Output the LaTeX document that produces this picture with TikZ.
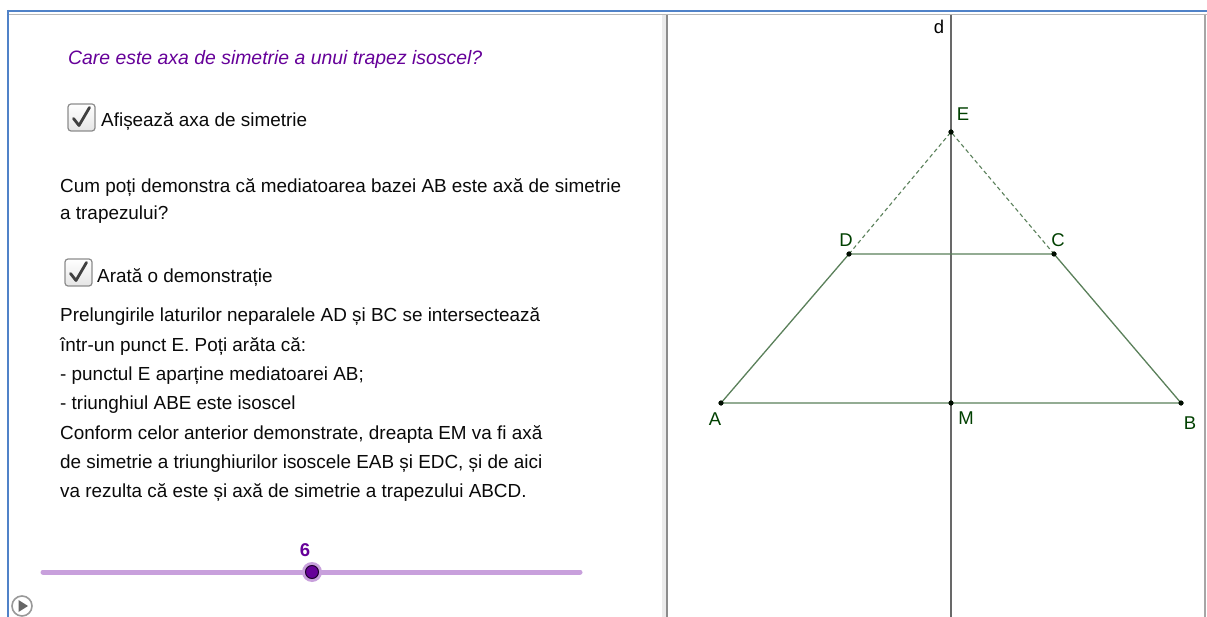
\documentclass[tikz,border=0pt]{standalone}
\usepackage{fontspec}
\setmainfont{Liberation Sans}
\definecolor{txt}{RGB}{10,10,10}
\definecolor{purp}{RGB}{102,0,153}
\definecolor{sliderc}{RGB}{200,160,220}
\definecolor{geo}{RGB}{90,128,90}
\definecolor{lbl}{RGB}{0,64,0}
\definecolor{frameblue}{RGB}{80,130,200}
\definecolor{axisgray}{RGB}{105,105,105}
\tikzset{
  body/.style={anchor=base west,inner sep=0pt,text=txt,font=\fontsize{18.9}{22}\selectfont},
  ptlabel/.style={inner sep=0pt,text=lbl,font=\fontsize{18.5}{22}\selectfont},
  pt/.style={circle,fill=black!80!lbl,inner sep=0pt,minimum size=5pt},
  seg/.style={draw=geo,line width=1.3pt},
  dseg/.style={draw=geo,line width=1.1pt,dash pattern=on 4pt off 3pt},
  chk/.style={draw=black!45,rounded corners=3pt,line width=1.2pt,top color=white,bottom color=black!10,minimum size=27pt,inner sep=0pt},
}
\begin{document}
\begin{tikzpicture}[x=1pt,y=-1pt]
\useasboundingbox (0,0) rectangle (1207,617);
\fill[white] (0,0) rectangle (1207,617);
% frame
\fill[black!8] (662,14) rectangle (666,617);
\draw[black!45,line width=1.3pt] (667,14) -- (667,617);
\draw[black!35,line width=1.3pt] (1205,14) -- (1205,617);
\draw[black!28,line width=1.5pt] (9,14.5) -- (1207,14.5);
\draw[frameblue,line width=2.5pt] (7,11) -- (1207,11);
\draw[frameblue,line width=2.5pt] (8,10) -- (8,617);
% left panel texts
\node[body,text=purp,font=\fontsize{19.4}{22}\selectfont\itshape] (q) at (68,65) {Care este axa de simetrie a unui trapez isoscel?};
\node[chk] (cb1) at (81.5,117.5) {};
\draw[black!75,line width=2.8pt,line cap=round,line join=round] ([shift={(-8,1)}]cb1.center) -- ([shift={(-2.5,8)}]cb1.center) -- ([shift={(8,-10)}]cb1.center);
\node[body] (t1) at (101,127) {Afișează axa de simetrie};
\node[body] (t2) at (60,193) {Cum poți demonstra că mediatoarea bazei AB este axă de simetrie};
\node[body] (t3) at (60,220) {a trapezului?};
\node[chk] (cb2) at (78.5,272.5) {};
\draw[black!75,line width=2.8pt,line cap=round,line join=round] ([shift={(-8,1)}]cb2.center) -- ([shift={(-2.5,8)}]cb2.center) -- ([shift={(8,-10)}]cb2.center);
\node[body] (t4) at (97,283) {Arată o demonstrație};
\node[body] (p1) at (60,322) {Prelungirile laturilor neparalele AD și BC se intersectează};
\node[body] (p2) at (60,351.3) {într-un punct E. Poți arăta că:};
\node[body] (p3) at (60,380.6) {- punctul E aparține mediatoarei AB;};
\node[body] (p4) at (60,409.9) {- triunghiul ABE este isoscel};
\node[body] (p5) at (60,439.2) {Conform celor anterior demonstrate, dreapta EM va fi axă};
\node[body] (p6) at (60,468.5) {de simetrie a triunghiurilor isoscele EAB și EDC, și de aici};
\node[body] (p7) at (60,497.8) {va rezulta că este și axă de simetrie a trapezului ABCD.};
% slider
\coordinate (s0) at (43,572);
\coordinate (s1) at (580,572);
\draw[sliderc,line width=5pt,line cap=round] (s0) -- (s1);
\node[circle,fill=sliderc,minimum size=20pt,inner sep=0pt] (knobh) at (312,572) {};
\node[circle,draw=black!70!purp,line width=1pt,fill=purp,minimum size=13pt,inner sep=0pt] (knob) at (312,572) {};
\node[anchor=base,inner sep=0pt,text=purp,font=\fontsize{18.5}{22}\selectfont\bfseries] (sv) at (305,556) {6};
% play button
\node[circle,draw=black!40,line width=1.6pt,minimum size=20pt,inner sep=0pt] (play) at (22,606) {};
\fill[black!60] ([shift={(-3.5,-6)}]play.center) -- ([shift={(-3.5,6)}]play.center) -- ([shift={(6,0)}]play.center) -- cycle;
% geometry
\coordinate (dtop) at (951,15);
\coordinate (dbot) at (951,617);
\draw[axisgray,line width=1.5pt] (dtop) -- (dbot);
\node[anchor=base,inner sep=0pt,text=black,font=\fontsize{18.5}{22}\selectfont] (dl) at (939,34) {d};
\node[pt] (A) at (721,403) {};
\node[pt] (B) at (1181,403) {};
\node[pt] (M) at (951,403) {};
\node[pt] (D) at (849,254) {};
\node[pt] (C) at (1054,254) {};
\node[pt] (E) at (951,132) {};
\draw[seg] (A.center) -- (B.center) -- (C.center) -- (D.center) -- cycle;
\draw[dseg] (D.center) -- (E.center) -- (C.center);
\node[pt] at (A) {};\node[pt] at (B) {};\node[pt] at (M) {};
\node[pt] at (D) {};\node[pt] at (C) {};\node[pt] at (E) {};
\node[ptlabel] (lE) at (963,114) {E};
\node[ptlabel] (lD) at (846,240) {D};
\node[ptlabel] (lC) at (1058,240) {C};
\node[ptlabel] (lA) at (715,419) {A};
\node[ptlabel] (lM) at (966,418) {M};
\node[ptlabel] (lB) at (1190,423) {B};
\end{tikzpicture}
\end{document}
